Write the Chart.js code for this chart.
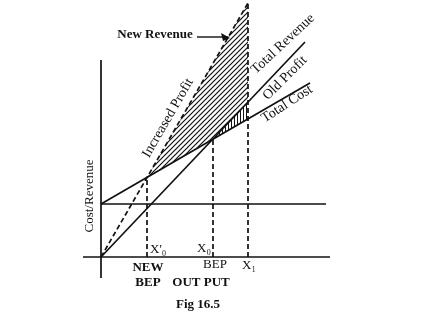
<!DOCTYPE html>
<html>
<head>
<meta charset="utf-8">
<script src="https://cdn.jsdelivr.net/npm/chart.js@4.4.1/dist/chart.umd.min.js"></script>
<style>
  body { margin: 0; background: #fff; }
  canvas { display: block; }
</style>
</head>
<body>
<canvas id="myChart" width="432" height="313"></canvas>
<script>
// readings (output on x, cost/revenue on y)
let outputs = { newBep: 4.6, bep: 11.2, x1: 14.7 };

let fixedCost = [{ x: 0, y: 5.3 }, { x: 22.5, y: 5.3 }];
let totalCost = [{ x: 0, y: 5.3 }, { x: 20.9, y: 17.4 }];
let totalRevenue = [{ x: 0, y: 0 }, { x: 20.4, y: 21.5 }];
let newRevenue = [{ x: 0, y: 0 }, { x: 14.7, y: 25.4 }];

let increasedProfit = [
    { x: 4.6, y: 7.95 }, { x: 14.7, y: 25.4 }, { x: 14.7, y: 15.5 },
    { x: 11.2, y: 11.8 }, { x: 4.6, y: 7.95 }
];
let oldProfit = [
    { x: 11.2, y: 11.8 }, { x: 14.7, y: 15.5 }, { x: 14.7, y: 13.8 }, { x: 11.2, y: 11.8 }
];

let dropLines = [
    [{ x: 4.6, y: 0 }, { x: 4.6, y: 7.95 }],
    [{ x: 11.2, y: 0 }, { x: 11.2, y: 11.8 }],
    [{ x: 14.7, y: 0 }, { x: 14.7, y: 25.4 }]
];

let xAxisLine = [{ x: -1.8, y: 0 }, { x: 22.9, y: 0 }];
let yAxisLine = [{ x: 0, y: -2.1 }, { x: 0, y: 19.7 }];

let arrow = [{ x: 9.6, y: 22.0 }, { x: 12.7, y: 22.0 }];

// text: [text, x, y, angle, font, align]
let labels = [
    ['New Revenue', 5.4, 22.2, 0, 'bold 13px "Liberation Serif"', 'center'],
    ['Total Revenue', 18.2, 21.3, -43, '14px "Liberation Serif"', 'center'],
    ['Old Profit', 18.4, 17.9, -45, '14px "Liberation Serif"', 'center'],
    ['Total Cost', 18.6, 15.3, -33, '14px "Liberation Serif"', 'center'],
    ['Increased Profit', 6.7, 13.9, -60, '14px "Liberation Serif"', 'center'],
    ['Cost/Revenue', -1.1, 6.1, -90, '13px "Liberation Serif"', 'center'],
    ["X'₀", 4.9, 0.7, 0, '13px "Liberation Serif"', 'left'],
    ['X₀', 11.0, 0.8, 0, '13px "Liberation Serif"', 'right'],
    ['X₁', 14.8, -0.9, 0, '13px "Liberation Serif"', 'center'],
    ['NEW', 4.7, -1.1, 0, 'bold 13px "Liberation Serif"', 'center'],
    ['BEP', 4.7, -2.6, 0, 'bold 13px "Liberation Serif"', 'center'],
    ['BEP', 11.4, -0.8, 0, '13px "Liberation Serif"', 'center'],
    ['OUT PUT', 10.0, -2.6, 0, 'bold 13px "Liberation Serif"', 'center'],
    ['Fig 16.5', 9.7, -4.8, 0, 'bold 13px "Liberation Serif"', 'center']
];

const ink = '#111';

const hatch = (size, vertical) => {
    let c = document.createElement('canvas');
    c.width = size;
    c.height = size;
    let g = c.getContext('2d');
    g.strokeStyle = ink;
    g.lineWidth = vertical ? 1 : 1.2;
    g.beginPath();
    if (vertical) {
        g.moveTo(0.5, 0);
        g.lineTo(0.5, size);
    } else {
        g.moveTo(-1, 1);
        g.lineTo(1, -1);
        g.moveTo(0, size);
        g.lineTo(size, 0);
        g.moveTo(size - 1, size + 1);
        g.lineTo(size + 1, size - 1);
    }
    g.stroke();
    return g.createPattern(c, 'repeat');
};

const line = (data, dashed, width) => ({
    data: data,
    showLine: true,
    borderColor: ink,
    borderWidth: width || 1.7,
    borderDash: dashed ? [5, 3] : [],
    pointRadius: 0,
    fill: false
});

const textPlugin = {
    id: 'texts',
    afterDatasetsDraw(chart) {
        let ctx = chart.ctx;
        let xs = chart.scales.x, ys = chart.scales.y;
        ctx.save();
        ctx.fillStyle = ink;
        ctx.textBaseline = 'middle';
        labels.forEach(([t, x, y, a, f, al]) => {
            ctx.save();
            ctx.translate(xs.getPixelForValue(x), ys.getPixelForValue(y));
            ctx.rotate(a * Math.PI / 180);
            ctx.font = f;
            ctx.textAlign = al;
            ctx.fillText(t, 0, 0);
            ctx.restore();
        });
        // arrow head at the end of the pointer
        let ax = xs.getPixelForValue(arrow[1].x), ay = ys.getPixelForValue(arrow[1].y);
        ctx.beginPath();
        ctx.moveTo(ax + 2, ay + 1);
        ctx.lineTo(ax - 7, ay - 4);
        ctx.lineTo(ax - 5, ay + 4);
        ctx.closePath();
        ctx.fill();
        ctx.restore();
    }
};

new Chart(document.getElementById('myChart'), {
    type: 'scatter',
    data: {
        datasets: [
            { data: increasedProfit, showLine: true, borderWidth: 0, pointRadius: 0,
              backgroundColor: hatch(5, false), fill: 'shape' },
            { data: oldProfit, showLine: true, borderWidth: 0, pointRadius: 0,
              backgroundColor: hatch(3, true), fill: 'shape' },
            line(xAxisLine),
            line(yAxisLine),
            line(fixedCost),
            line(totalCost),
            line(totalRevenue),
            line(newRevenue, true),
            line(dropLines[0], true),
            line(dropLines[1], true),
            line(dropLines[2], true),
            line(arrow, false, 1.4)
        ]
    },
    options: {
        responsive: false,
        animation: false,
        devicePixelRatio: 1,
        layout: { padding: { left: 83, right: 102, top: 3, bottom: 35 } },
        plugins: { legend: { display: false }, tooltip: { enabled: false } },
        scales: {
            x: { type: 'linear', min: -1.8, max: 22.9, display: false },
            y: { type: 'linear', min: -2.1, max: 25.4, display: false }
        }
    },
    plugins: [textPlugin]
});
</script>
</body>
</html>
